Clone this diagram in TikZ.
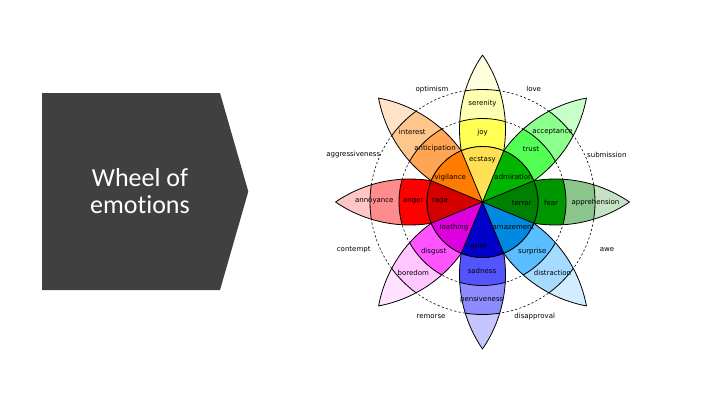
\documentclass[tikz,border=0pt]{standalone}
\usepackage{fontspec}
\setmainfont[Ligatures=NoCommon]{Carlito}
\newfontfamily\wheelfont{DejaVu Sans}
\definecolor{slate}{RGB}{64,64,64}
% joy
\definecolor{joyT}{RGB}{255,255,221}
\definecolor{joyO}{RGB}{255,255,177}
\definecolor{joyM}{RGB}{255,255,84}
\definecolor{joyI}{RGB}{255,224,84}
% trust
\definecolor{trustT}{RGB}{200,255,200}
\definecolor{trustO}{RGB}{140,255,140}
\definecolor{trustM}{RGB}{84,255,84}
\definecolor{trustI}{RGB}{0,180,0}
% fear
\definecolor{fearT}{RGB}{198,226,198}
\definecolor{fearO}{RGB}{140,198,140}
\definecolor{fearM}{RGB}{0,150,0}
\definecolor{fearI}{RGB}{0,128,0}
% surprise
\definecolor{surT}{RGB}{210,237,255}
\definecolor{surO}{RGB}{165,219,255}
\definecolor{surM}{RGB}{89,189,255}
\definecolor{surI}{RGB}{0,137,224}
% sadness
\definecolor{sadT}{RGB}{198,198,255}
\definecolor{sadO}{RGB}{140,140,255}
\definecolor{sadM}{RGB}{84,84,255}
\definecolor{sadI}{RGB}{0,0,200}
% disgust
\definecolor{disT}{RGB}{255,226,255}
\definecolor{disO}{RGB}{255,198,255}
\definecolor{disM}{RGB}{255,84,255}
\definecolor{disI}{RGB}{222,0,222}
% anger
\definecolor{angT}{RGB}{255,198,198}
\definecolor{angO}{RGB}{255,140,140}
\definecolor{angM}{RGB}{255,0,0}
\definecolor{angI}{RGB}{212,0,0}
% anticipation
\definecolor{antT}{RGB}{255,226,200}
\definecolor{antO}{RGB}{255,198,140}
\definecolor{antM}{RGB}{255,165,84}
\definecolor{antI}{RGB}{255,124,0}

\tikzset{
  petalline/.style={draw=black, line width=0.8pt},
  dashcirc/.style={draw=black, line width=0.6pt, dash pattern=on 2.2pt off 2.2pt},
  emo/.style={font=\wheelfont\fontsize{7}{8}\selectfont, inner sep=0pt, text=black},
  titletext/.style={font=\fontsize{26}{30}\selectfont, text=white, inner sep=0pt}
}

\newcommand{\emopetal}[5]{%
\begin{scope}[rotate=#1]
  \fill[#2] (22.5:55.5) arc[start angle=99.35,end angle=55.63,radius=131.66]
     arc[start angle=-55.63,end angle=-99.35,radius=131.66]
     arc[start angle=-22.5,end angle=22.5,radius=55.5] -- cycle;
  \begin{scope}
    \clip (22.5:55.5) arc[start angle=99.35,end angle=55.63,radius=131.66]
     arc[start angle=-55.63,end angle=-99.35,radius=131.66]
     arc[start angle=-22.5,end angle=22.5,radius=55.5] -- cycle;
    \fill[#3] (0,0) circle[radius=112.5];
    \fill[#4] (0,0) circle[radius=83.5];
    \draw[petalline] (0,0) circle[radius=112.5];
    \draw[petalline] (0,0) circle[radius=83.5];
  \end{scope}
  \draw[petalline] (22.5:55.5) arc[start angle=99.35,end angle=55.63,radius=131.66]
     arc[start angle=-55.63,end angle=-99.35,radius=131.66]
     arc[start angle=-22.5,end angle=22.5,radius=55.5] -- cycle;
  \fill[#5] (0,0) -- (-22.5:55.5) arc[start angle=-22.5,end angle=22.5,radius=55.5] -- cycle;
\end{scope}}

\begin{document}
\begin{tikzpicture}[x=1pt,y=1pt,line join=round]
\useasboundingbox (0,0) rectangle (720,-405);
\fill[white] (0,0) rectangle (720,-405);

% title arrow
\fill[slate] (42,-93) -- (220,-93) -- (248.3,-191.5) -- (220,-290) -- (42,-290) -- cycle;
\node[titletext, anchor=base] (title1) at (140,-186) {Wheel of};
\node[titletext, anchor=base] (title2) at (140,-213.3) {emotions};

% wheel
\begin{scope}[shift={(482.5,-202)}]
  \draw[dashcirc] (0,0) circle[radius=83.5];
  \draw[dashcirc] (0,0) circle[radius=112.5];
  \emopetal{90}{joyT}{joyO}{joyM}{joyI}
  \emopetal{45}{trustT}{trustO}{trustM}{trustI}
  \emopetal{0}{fearT}{fearO}{fearM}{fearI}
  \emopetal{-45}{surT}{surO}{surM}{surI}
  \emopetal{-90}{sadT}{sadO}{sadM}{sadI}
  \emopetal{-135}{disT}{disO}{disM}{disI}
  \emopetal{180}{angT}{angO}{angM}{angI}
  \emopetal{135}{antT}{antO}{antM}{antI}
  \foreach \a in {22.5,67.5,...,337.5} \draw[petalline] (0,0) -- (\a:55.5);
  \draw[petalline] (0,0) circle[radius=55.5];
\end{scope}

% labels
\node[emo] (serenity) at (482.5,-103.3) {serenity};
\node[emo] (joy) at (482.5,-133) {joy};
\node[emo] (ecstasy) at (482.5,-160) {ecstasy};
\node[emo] (acceptance) at (552.5,-131.5) {acceptance};
\node[emo] (trust) at (531,-148.8) {trust};
\node[emo] (admiration) at (513.5,-177) {admiration};
\node[emo] (apprehension) at (595.5,-203) {apprehension};
\node[emo] (fear) at (551,-203.3) {fear};
\node[emo] (terror) at (521.7,-203.3) {terror};
\node[emo] (distraction) at (552.5,-273.3) {distraction};
\node[emo] (surprise) at (532.3,-251.3) {surprise};
\node[emo] (amazement) at (513.5,-227.5) {amazement};
\node[emo] (pensiveness) at (481.7,-300) {pensiveness};
\node[emo] (sadness) at (482,-271) {sadness};
\node[emo] (grief) at (478.3,-246.7) {grief};
\node[emo] (boredom) at (413.3,-273.3) {boredom};
\node[emo] (disgust) at (433.7,-251.3) {disgust};
\node[emo] (loathing) at (454,-227.3) {loathing};
\node[emo] (annoyance) at (374.3,-201.7) {annoyance};
\node[emo] (anger) at (413.3,-201.7) {anger};
\node[emo] (rage) at (440,-201.7) {rage};
\node[emo] (interest) at (412.3,-131.7) {interest};
\node[emo] (anticipation) at (435,-148.7) {anticipation};
\node[emo] (vigilance) at (450.3,-177.3) {vigilance};
\node[emo] (optimism) at (432,-89.3) {optimism};
\node[emo] (love) at (533.7,-89.3) {love};
\node[emo] (submission) at (606.8,-155) {submission};
\node[emo] (awe) at (607,-249.3) {awe};
\node[emo] (disapproval) at (534.7,-316.9) {disapproval};
\node[emo] (remorse) at (431,-316.9) {remorse};
\node[emo] (contempt) at (353.7,-249.3) {contempt};
\node[emo] (aggressiveness) at (353.3,-155) {aggressiveness};
\end{tikzpicture}
\end{document}
